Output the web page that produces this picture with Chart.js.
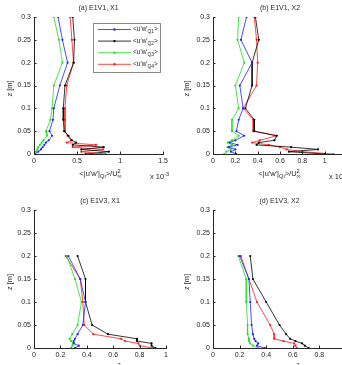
<!DOCTYPE html>
<html>
<head>
<meta charset="utf-8">
<script src="https://cdn.jsdelivr.net/npm/chart.js@4"></script>
<style>
    body { margin: 0; background: #fff; }
    #wrap { position: relative; width: 342px; height: 365px; overflow: hidden; background: #fff; }
    canvas { position: absolute; }
</style>
</head>
<body>
<div id="wrap">
    <canvas id="panel-a" width="171" height="182" style="left:0;top:0"></canvas>
    <canvas id="panel-b" width="180" height="182" style="left:171px;top:0"></canvas>
    <canvas id="panel-c" width="171" height="192" style="left:0;top:182px"></canvas>
    <canvas id="panel-d" width="180" height="192" style="left:171px;top:182px"></canvas>
</div>
<script>
// heights z [m]
const zTop = [0.3, 0.25, 0.2, 0.15, 0.1, 0.075, 0.05, 0.04, 0.03, 0.025, 0.02, 0.015, 0.01, 0.005, 0];
const zBottom = [0.2, 0.15, 0.1, 0.05, 0.03, 0.02, 0.015, 0.01, 0.005, 0];

// (a) E1V1, X1
const aQ1 = [0.28, 0.33, 0.39, 0.30, 0.23, 0.22, 0.18, 0.21, 0.17, 0.14, 0.12, 0.10, 0.08, 0.05, 0.01];
const aQ2 = [0.45, 0.47, 0.46, 0.36, 0.34, 0.34, 0.35, 0.40, 0.44, 0.49, 0.45, 0.81, 0.55, 0.87, 0.60];
const aQ3 = [0.23, 0.29, 0.33, 0.23, 0.21, 0.19, 0.14, 0.15, 0.11, 0.09, 0.07, 0.05, 0.04, 0.02, 0.01];
const aQ4 = [0.42, 0.44, 0.46, 0.38, 0.36, 0.36, 0.36, 0.39, 0.43, 0.38, 0.72, 0.45, 0.80, 0.55, 0.83];

// (b) E1V1, X2
const bQ1 = [0.30, 0.25, 0.35, 0.24, 0.27, 0.23, 0.21, 0.28, 0.20, 0.15, 0.22, 0.14, 0.20, 0.16, 0.21];
const bQ2 = [0.38, 0.41, 0.35, 0.35, 0.29, 0.37, 0.37, 0.57, 0.55, 0.41, 0.39, 0.70, 0.94, 0.68, 1.00];
const bQ3 = [0.23, 0.22, 0.28, 0.20, 0.23, 0.17, 0.17, 0.23, 0.17, 0.13, 0.17, 0.13, 0.16, 0.12, 0.10];
const bQ4 = [0.37, 0.39, 0.40, 0.39, 0.27, 0.36, 0.36, 0.57, 0.42, 0.35, 0.50, 0.60, 0.66, 0.80, 1.08];

// (c) E1V3, X1
const cQ1 = [0.26, 0.35, 0.39, 0.37, 0.33, 0.31, 0.30, 0.30, 0.34, 0.31];
const cQ2 = [0.33, 0.39, 0.39, 0.44, 0.56, 0.78, 0.78, 0.89, 0.89, 0.92];
const cQ3 = [0.25, 0.31, 0.36, 0.33, 0.29, 0.27, 0.28, 0.30, 0.29, 0.28];
const cQ4 = [0.24, 0.35, 0.37, 0.38, 0.45, 0.66, 0.69, 0.79, 0.80, 0.90];

// (d) E1V3, X2
const dQ1 = [0.20, 0.27, 0.28, 0.29, 0.30, 0.31, 0.32, 0.34, 0.33, 0.39];
const dQ2 = [0.28, 0.30, 0.40, 0.50, 0.55, 0.58, 0.62, 0.67, 0.69, 0.72];
const dQ3 = [0.19, 0.25, 0.25, 0.26, 0.26, 0.27, 0.27, 0.28, 0.30, 0.34];
const dQ4 = [0.21, 0.27, 0.33, 0.43, 0.46, 0.46, 0.53, 0.61, 0.62, 0.63];

const seriesNames = ['Q1', 'Q2', 'Q3', 'Q4'];
const seriesColors = ['#1f1fff', '#000000', '#22dd22', '#ff1a1a'];
const panelTitles = ['(a) E1V1, X1', '(b) E1V1, X2', '(c) E1V3, X1', '(d) E1V3, X2'];

const FONT = '"Liberation Sans", Arial, sans-serif';
const AXIS = '#262626';

function toPoints(xs, zs) {
    return xs.map(function(v, i) { return {x: v, y: zs[i]}; });
}

// text with sub/superscripts: n normal, b sub, p sup, B sub without advance
function richText(ctx, x, y, parts, size, align) {
    let small = size * 0.75;
    let widths = parts.map(function(p) {
        ctx.font = (p[1] === 'n' ? size : small) + 'px ' + FONT;
        return p[1] === 'B' ? 0 : ctx.measureText(p[0]).width;
    });
    let total = widths.reduce(function(a, b) { return a + b; }, 0);
    let cx = align === 'center' ? x - total / 2 : x;
    ctx.textAlign = 'left';
    ctx.textBaseline = 'alphabetic';
    parts.forEach(function(p, i) {
        let dy = 0;
        if (p[1] === 'b' || p[1] === 'B') dy = size * 0.3;
        if (p[1] === 'p') dy = -size * 0.45;
        ctx.font = (p[1] === 'n' ? size : small) + 'px ' + FONT;
        ctx.fillText(p[0], cx, y + dy);
        cx += widths[i];
    });
}

function decorPlugin(cfg) {
    return {
        id: 'decor',
        afterDraw: function(chart) {
            let ctx = chart.ctx;
            let area = chart.chartArea;
            ctx.save();
            ctx.fillStyle = AXIS;
            ctx.strokeStyle = AXIS;
            ctx.lineWidth = 1;

            // inward tick marks
            let xs = chart.scales.x, ys = chart.scales.y;
            ctx.beginPath();
            xs.ticks.forEach(function(t) {
                let px = Math.round(xs.getPixelForValue(t.value)) + 0.5;
                if (px > area.right + 1) return;
                ctx.moveTo(px, area.bottom);
                ctx.lineTo(px, area.bottom - 2.5);
            });
            ys.ticks.forEach(function(t) {
                let py = Math.round(ys.getPixelForValue(t.value)) + 0.5;
                ctx.moveTo(area.left, py);
                ctx.lineTo(area.left + 2.5, py);
            });
            ctx.stroke();

            // title
            ctx.font = '7px ' + FONT;
            ctx.textAlign = 'center';
            ctx.textBaseline = 'alphabetic';
            ctx.fillText(cfg.title, (area.left + area.right) / 2 + cfg.titleShift, area.top - 7);

            // y label
            ctx.save();
            ctx.translate(area.left - cfg.yLabelGap, (area.top + area.bottom) / 2 + 3);
            ctx.rotate(-Math.PI / 2);
            ctx.font = '7.5px ' + FONT;
            ctx.textAlign = 'center';
            ctx.textBaseline = 'middle';
            ctx.fillText('z [m]', 0, 0);
            ctx.restore();

            // x label
            richText(ctx, (area.left + 134 / 2) - 1, area.bottom + 22,
                [['<|u\'w\'|', 'n'], ['Qi', 'b'], ['>/U', 'n'], ['\u221e', 'B'], ['2', 'p']], 7.5, 'center');

            // exponent
            richText(ctx, area.left + 116, area.bottom + 25, [['x 10', 'n'], ['-3', 'p']], 7.5, 'left');

            if (cfg.legend) {
                let lx = area.left + 59, ly = area.top + 6;
                ctx.fillStyle = '#ffffff';
                ctx.fillRect(lx, ly, 67, 49);
                ctx.strokeStyle = '#8a8a8a';
                ctx.strokeRect(lx + 0.5, ly + 0.5, 67, 49);
                seriesNames.forEach(function(name, i) {
                    let ey = ly + 6.5 + i * 11.6;
                    ctx.strokeStyle = seriesColors[i];
                    ctx.lineWidth = 0.8;
                    ctx.beginPath();
                    ctx.moveTo(lx + 5, ey);
                    ctx.lineTo(lx + 38, ey);
                    ctx.stroke();
                    ctx.fillStyle = seriesColors[i];
                    ctx.beginPath();
                    ctx.arc(lx + 21.5, ey, 1.2, 0, Math.PI * 2);
                    ctx.fill();
                    ctx.fillStyle = AXIS;
                    richText(ctx, lx + 40, ey + 1.5, [['<u\'w\'', 'n'], [name, 'b'], ['>', 'n']], 6.5, 'left');
                });
            }
            ctx.restore();
        }
    };
}

function makePanel(id, cfg) {
    let datasets = cfg.series.map(function(s, i) {
        return {
            data: toPoints(s, cfg.z),
            showLine: true,
            borderColor: seriesColors[i],
            backgroundColor: seriesColors[i],
            borderWidth: 0.8,
            pointRadius: 1.1,
            pointBorderWidth: 0,
            pointHoverRadius: 1.1
        };
    });
    let tickFont = {size: 7, family: FONT};

    new Chart(document.getElementById(id), {
        type: 'scatter',
        data: {datasets: datasets},
        options: {
            responsive: false,
            animation: false,
            devicePixelRatio: 1,
            layout: {padding: {left: 0, right: cfg.padRight, top: cfg.padTop, bottom: 0}},
            plugins: {legend: {display: false}, tooltip: {enabled: false}},
            scales: {
                x: {
                    type: 'linear',
                    min: 0,
                    max: cfg.xMax,
                    grid: {display: false, drawTicks: false},
                    border: {display: true, color: AXIS, width: 1},
                    ticks: {
                        stepSize: cfg.xStep,
                        color: AXIS,
                        font: tickFont,
                        padding: 3,
                        maxRotation: 0,
                        autoSkip: false,
                        callback: function(v) { return v > cfg.xLabelMax ? '' : +v.toFixed(2); }
                    },
                    afterFit: function(scale) { scale.height = cfg.xHeight; }
                },
                y: {
                    type: 'linear',
                    min: 0,
                    max: 0.3,
                    grid: {display: false, drawTicks: false},
                    border: {display: true, color: AXIS, width: 1},
                    ticks: {
                        stepSize: 0.05,
                        color: AXIS,
                        font: tickFont,
                        padding: 3,
                        callback: function(v) { return +v.toFixed(2); }
                    },
                    afterFit: function(scale) { scale.width = cfg.yWidth; }
                }
            }
        },
        plugins: [decorPlugin(cfg)]
    });
}

makePanel('panel-a', {
    z: zTop, series: [aQ1, aQ2, aQ3, aQ4], title: panelTitles[0], titleShift: 0, legend: true,
    xMax: 1.5, xStep: 0.5, xLabelMax: 1.5, yWidth: 34, padRight: 3, padTop: 17, xHeight: 28, yLabelGap: 24
});
makePanel('panel-b', {
    z: zTop, series: [bQ1, bQ2, bQ3, bQ4], title: panelTitles[1], titleShift: 0, legend: false,
    xMax: 1.2, xStep: 0.2, xLabelMax: 1.05, yWidth: 42, padRight: 4, padTop: 17, xHeight: 28, yLabelGap: 26
});
makePanel('panel-c', {
    z: zBottom, series: [cQ1, cQ2, cQ3, cQ4], title: panelTitles[2], titleShift: 0, legend: false,
    xMax: 1, xStep: 0.2, xLabelMax: 1, yWidth: 34, padRight: 4, padTop: 28, xHeight: 26, yLabelGap: 24
});
makePanel('panel-d', {
    z: zBottom, series: [dQ1, dQ2, dQ3, dQ4], title: panelTitles[3], titleShift: 0, legend: false,
    xMax: 1, xStep: 0.2, xLabelMax: 1, yWidth: 42, padRight: 5, padTop: 28, xHeight: 26, yLabelGap: 26
});
</script>
</body>
</html>
